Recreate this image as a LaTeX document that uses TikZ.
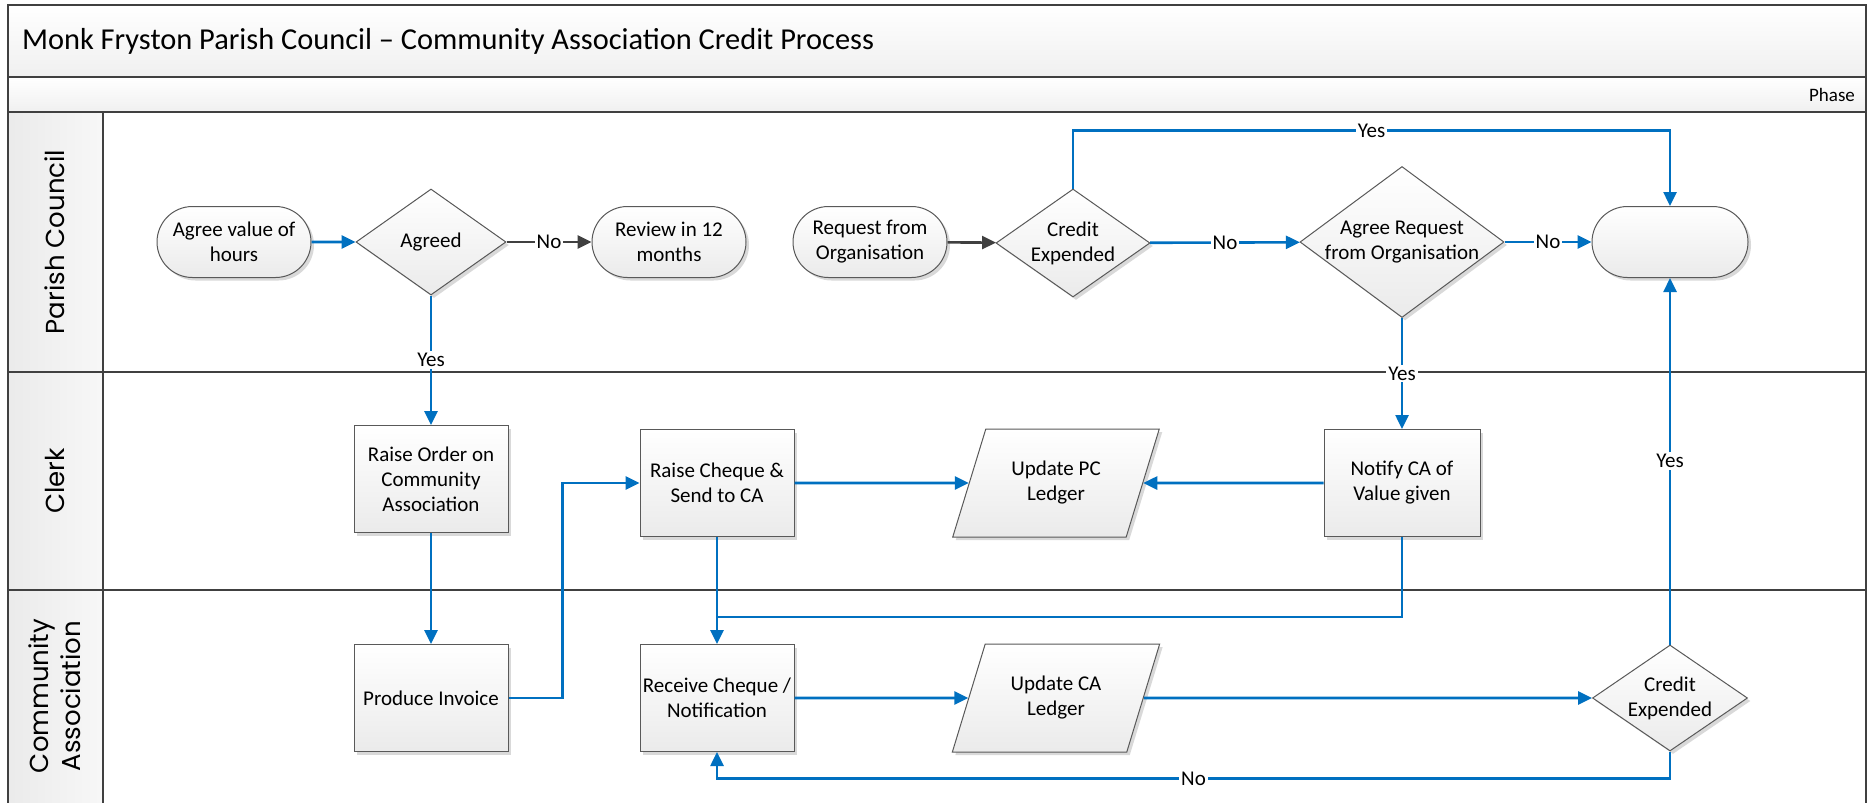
\documentclass[tikz,border=0pt]{standalone}
\usepackage{fontspec}
\setmainfont{Carlito}
\newfontfamily\lanefont{Poppins}
\usetikzlibrary{shapes.geometric,shapes.misc,shadows,arrows.meta}
\definecolor{flowblue}{RGB}{0,112,192}
\definecolor{lanegray}{RGB}{64,64,64}
\definecolor{edgegray}{RGB}{89,89,89}
\begin{document}
\begin{tikzpicture}[x=0.5pt,y=-0.5pt,
  box/.style={draw=edgegray,line width=0.5pt,top color=white,bottom color=black!8,
    drop shadow={shadow xshift=1.5pt,shadow yshift=-1.5pt,fill=black!15,opacity=1},
    font=\fontsize{10.5}{12.5}\selectfont,align=center,inner sep=0pt},
  task/.style={box,rectangle,minimum width=77pt,minimum height=53.5pt},
  term/.style={box,rounded rectangle,minimum width=77pt,minimum height=35.5pt},
  dec/.style={box,diamond},
  data/.style={box,trapezium,trapezium left angle=64,trapezium right angle=116,
    trapezium stretches=true,minimum width=104pt,minimum height=54pt},
  txt/.style={font=\fontsize{10.5}{12.5}\selectfont,align=center},
  flow/.style={flowblue,line width=1.3pt,-{Triangle[length=7pt,width=6.5pt]}},
  link/.style={flowblue,line width=1.3pt},
  gflow/.style={lanegray,line width=1.3pt,-{Triangle[length=7pt,width=6.5pt]}},
  lbl/.style={fill=white,text=black,inner sep=1pt,font=\fontsize{10.5}{12.5}\selectfont},
  lane/.style={lanegray,line width=1.2pt},
  lanename/.style={rotate=90,font=\lanefont\fontsize{13}{16}\selectfont,align=center}]
\useasboundingbox (0,0) rectangle (1874,803);
\shade[top color=white,bottom color=black!6] (8,5) rectangle (1866,77);
\shade[top color=white,bottom color=black!6] (8,77) rectangle (1866,112);
\shade[left color=black!8,right color=black!3] (8,112) rectangle (103,803);
\draw[lane] (8,803) -- (8,5) -- (1866,5) -- (1866,803);
\foreach \y in {77,112,372,590} \draw[lane] (8,\y) -- (1866,\y);
\draw[lane] (103,112) -- (103,803);
\node[anchor=west,font=\fontsize{15.2}{17}\selectfont] (title) at (15,41) {Monk Fryston Parish Council – Community Association Credit Process};
\node[anchor=east,font=\fontsize{9.5}{11}\selectfont] (phase) at (1862,95) {Phase};
\node[lanename] (pc) at (55,242) {Parish Council};
\node[lanename] (clerk) at (55,481) {Clerk};
\node[lanename] (ca) at (55,696) {Community\\Association};

\node[term] (agreeVal) at (234,242) {Agree value of\\hours};
\node[dec,minimum width=75pt,minimum height=53pt] (agreed) at (431,242) {Agreed};
\node[term] (review) at (669,242) {Review in 12\\months};
\node[term] (request) at (870,242) {Request from\\Organisation};
\node[dec,minimum width=77pt,minimum height=54pt,
  label={[txt]center:Credit\\Expended}] (ce1) at (1073,243) {};
\node[dec,minimum width=102pt,minimum height=75.5pt,
  label={[txt]center:Agree Request\\from Organisation}] (agreeReq) at (1402,242) {};
\node[term,minimum width=78pt] (endT) at (1670,242) {};

\node[task] (order) at (431,479) {Raise Order on\\Community\\Association};
\node[task] (cheque) at (717,483) {Raise Cheque \&\\Send to CA};
\node[data] (ledgerPC) at (1056,483) {Update PC\\Ledger};
\node[task,minimum width=78pt] (notify) at (1402,483) {Notify CA of\\Value given};

\node[task] (invoice) at (431,698) {Produce Invoice};
\node[task] (receive) at (717,698) {Receive Cheque /\\Notification};
\node[data] (ledgerCA) at (1056,698) {Update CA\\Ledger};
\node[dec,minimum width=77.5pt,minimum height=53pt,
  label={[txt]center:Credit\\Expended}] (ce2) at (1670,698) {};
\coordinate (join) at (717,617);

\draw[flow] (agreeVal) -- (agreed);
\draw[gflow] (agreed) -- node[lbl]{No} (review);
\draw[flow] (agreed) -- node[lbl]{Yes} (order);
\draw[gflow] (request) -- (ce1);
\draw[flow] (ce1) -- node[lbl]{No} (agreeReq);
\draw[flow] (agreeReq) -- node[lbl]{No} (endT);
\draw[flow] (ce1.north) -- ++(0,-58) -| node[lbl,pos=0.25]{Yes} (endT.north);
\draw[flow] (agreeReq) -- node[lbl]{Yes} (notify);
\draw[flow] (order) -- (invoice);
\draw[flow] (invoice.east) -- ++(54,0) |- (cheque.west);
\draw[flow] (cheque) -- (ledgerPC);
\draw[flow] (notify) -- (ledgerPC);
\draw[flow] (cheque) -- (receive);
\draw[link] (notify.south) |- (join);
\draw[flow] (receive) -- (ledgerCA);
\draw[flow] (ledgerCA) -- (ce2);
\draw[flow] (ce2) -- node[lbl]{Yes} (endT);
\draw[flow] (ce2.south) -- ++(0,27) -| node[lbl,pos=0.25]{No} (receive.south);
\end{tikzpicture}
\end{document}
